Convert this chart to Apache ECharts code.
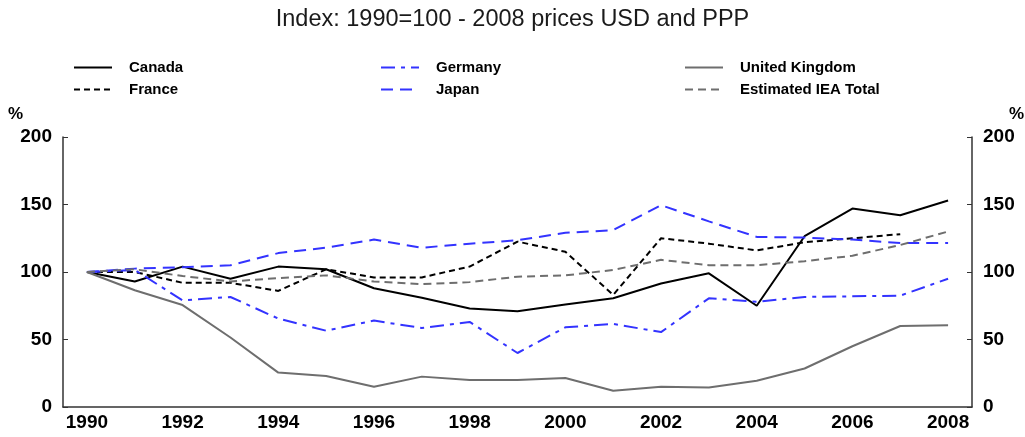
<!DOCTYPE html>
<html><head><meta charset="utf-8">
<script src="https://cdn.jsdelivr.net/npm/echarts@6/dist/echarts.min.js"></script>
<style>html,body{margin:0;padding:0;background:#fff}#c{width:1025px;height:437px}</style>
</head><body><div id="c"></div>
<script>
const years = ['1990','1991','1992','1993','1994','1995','1996','1997','1998','1999','2000','2001','2002','2003','2004','2005','2006','2007','2008'];
const canada = [100,93,104,95,104,102,88,81,73,71,76,80.5,91.5,99,75,126.5,147,142,153];
const france = [100,100,92,92,86,102,96,96,104,122.5,115,83,125,121,116,122,125,128,null];
const germany = [100,101.5,79,81.5,65.5,56.5,64,58.5,63,40,59,61.5,55.5,80.5,78,81.5,82,82.5,95];
const japan = [100,102.5,103.5,105,114,118,124,118,121,123.5,129,131,149.5,137.5,126,125.5,124,121.5,121.5];
const uk = [100,86.5,75.5,51.5,25.5,23,15,22.5,20,20,21.5,12,15,14.5,19.5,28.5,45,60,60.5];
const iea = [100,102,97,93,95.5,97.5,93,91,92.5,96.5,97.5,101.5,109,105,105,108,112,120,130];

const chart = echarts.init(document.getElementById('c'));
const FONT = 'Liberation Sans, Arial, sans-serif';
const BLUE = '#3333ff', GREY = '#6e6e6e', AX = '#333';
function ser(name, data, color, type) {
  return {name, type:'line', data, symbol:'none', connectNulls:false,
    lineStyle:{color, width:2, type}, itemStyle:{color}};
}
const legendBase = {orient:'vertical', itemWidth:38, itemHeight:14, itemGap:7, top:55,
  itemStyle:{opacity:0},
  textStyle:{fontFamily:FONT, fontWeight:'bold', fontSize:15, color:'#000', padding:[0,0,0,12]}};
const lbl = {fontFamily:FONT, fontWeight:'bold', fontSize:19, color:'#000'};
chart.setOption({
  animation:false,
  title:{text:'Index: 1990=100 - 2008 prices USD and PPP', left:'center', top:3,
    textStyle:{fontFamily:FONT, fontWeight:'normal', fontSize:23.5, color:'#1a1a1a'}},
  legend:[
    Object.assign({}, legendBase, {left:68, data:['Canada','France']}),
    Object.assign({}, legendBase, {left:375, data:['Germany','Japan']}),
    Object.assign({}, legendBase, {left:679, data:['United Kingdom','Estimated IEA Total']})
  ],
  graphic:[
    {type:'text', left:8, top:106, style:{text:'%', font:'bold 17px Liberation Sans, Arial, sans-serif', fill:'#000'}},
    {type:'text', left:1009, top:106, style:{text:'%', font:'bold 17px Liberation Sans, Arial, sans-serif', fill:'#000'}}
  ],
  grid:{left:63, right:53, top:137, bottom:30},
  xAxis:{type:'category', data:years, boundaryGap:true,
    axisLine:{lineStyle:{color:AX, width:1.5}},
    axisTick:{inside:true, length:5, interval:0, lineStyle:{color:AX}},
    axisLabel:Object.assign({interval:1, margin:6}, lbl)},
  yAxis:[
    {type:'value', min:0, max:200, interval:50, position:'left',
      axisLine:{show:true, lineStyle:{color:AX, width:1.5}}, splitLine:{show:false},
      axisTick:{show:true, inside:true, length:5, lineStyle:{color:AX}},
      axisLabel:Object.assign({margin:11}, lbl)},
    {type:'value', min:0, max:200, interval:50, position:'right',
      axisLine:{show:true, lineStyle:{color:AX, width:1.5}}, splitLine:{show:false},
      axisTick:{show:true, inside:true, length:5, lineStyle:{color:AX}},
      axisLabel:Object.assign({margin:11}, lbl)}
  ],
  series:[
    ser('Canada', canada, '#000', 'solid'),
    ser('France', france, '#000', [6,4]),
    ser('Germany', germany, BLUE, [14,6,4,6]),
    ser('Japan', japan, BLUE, [12,7]),
    ser('United Kingdom', uk, GREY, 'solid'),
    ser('Estimated IEA Total', iea, GREY, [8,5])
  ]
});
</script></body></html>
